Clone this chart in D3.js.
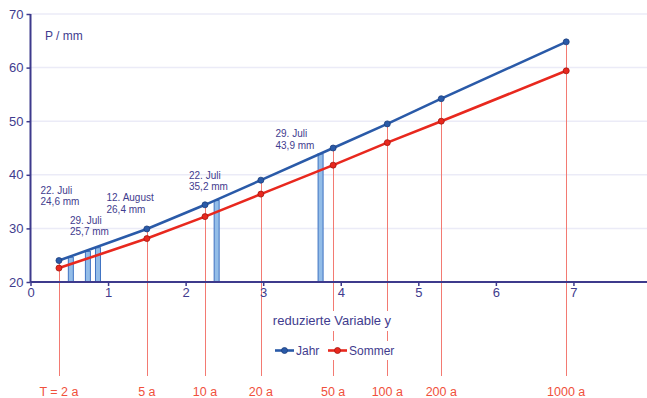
<!DOCTYPE html>
<html>
<head>
<meta charset="utf-8">
<script src="https://cdn.jsdelivr.net/npm/d3@7"></script>
<style>
  html, body { margin: 0; padding: 0; background: #ffffff; }
  svg { display: block; font-family: "Liberation Sans", Arial, sans-serif; }
</style>
</head>
<body>
<svg id="chart" width="647" height="398"></svg>
<script>
// ---- data ----
const returnPeriods = ["T = 2 a", "5 a", "10 a", "20 a", "50 a", "100 a", "200 a", "1000 a"];
const reducedVariable = [0.367, 1.500, 2.250, 2.970, 3.902, 4.600, 5.296, 6.907];
const jahr = [24.0, 29.9, 34.4, 39.0, 45.0, 49.5, 54.2, 64.8];
const sommer = [22.6, 28.1, 32.2, 36.4, 41.8, 46.0, 50.0, 59.4];

const observedY = [0.52, 0.74, 0.87, 2.40, 3.74];
const observedP = [24.6, 25.7, 26.4, 35.2, 43.9];
const observedDates = ["22. Juli", "29. Juli", "12. August", "22. Juli", "29. Juli"];

const xTicks = [0, 1, 2, 3, 4, 5, 6, 7];
const yTicks = [20, 30, 40, 50, 60, 70];
const seriesNames = ["Jahr", "Sommer"];

// ---- layout ----
const svg = d3.select("#chart");
const x = d3.scaleLinear().domain([0, 8]).range([30.5, 651]);
const y = d3.scaleLinear().domain([20, 70]).range([282, 14]);
const axisColor = "#3d3a8c";
const textColor = "#3f3c8e";
const blue = "#2a5aa8", blueDark = "#1d3f7c";
const red = "#e8281e", redDark = "#a3160f";
const tColor = "#f0503c";

// gridlines
svg.append("g").selectAll("line").data(yTicks.filter(d => d > 20)).join("line")
  .attr("x1", x(0)).attr("x2", 647)
  .attr("y1", d => y(d)).attr("y2", d => y(d))
  .attr("stroke", "#ebebf7").attr("stroke-width", 1.5);

// return-period vertical lines
svg.append("g").selectAll("line").data(reducedVariable).join("line")
  .attr("x1", d => Math.round(x(d)) + 0.5).attr("x2", d => Math.round(x(d)) + 0.5)
  .attr("y1", (d, i) => y(jahr[i])).attr("y2", 376)
  .attr("stroke", "#f37a72").attr("stroke-width", 1);

// observed bars
const bw = 5;
svg.append("g").selectAll("rect").data(observedY).join("rect")
  .attr("x", d => x(d) - bw / 2)
  .attr("y", (d, i) => y(observedP[i]))
  .attr("width", bw)
  .attr("height", (d, i) => y(20) - y(observedP[i]))
  .attr("fill", "#93bde8").attr("stroke", "#3f72c2").attr("stroke-width", 1);

// axes
const yAxis = svg.append("g").attr("transform", `translate(${x(0)},0)`)
  .call(d3.axisLeft(y).tickValues(yTicks).tickSize(4).tickPadding(3).tickFormat(d3.format("d")));
const xAxis = svg.append("g").attr("transform", `translate(0,${y(20)})`)
  .call(d3.axisBottom(x).tickValues(xTicks).tickSize(4).tickPadding(4).tickFormat(d3.format("d")));
[yAxis, xAxis].forEach(a => {
  a.select(".domain").attr("stroke", axisColor).attr("stroke-width", 2);
  a.selectAll(".tick line").attr("stroke", axisColor).attr("stroke-width", 1.5);
  a.selectAll(".tick text").attr("fill", textColor).attr("font-size", 13)
    .attr("font-family", "Liberation Sans, Arial, sans-serif");
});
xAxis.select(".domain").attr("d", `M${x(0)},0H647`);
yAxis.select(".domain").attr("d", `M0,${y(70)}V${y(20)}`);
xAxis.selectAll(".tick text").attr("dy", "0.55em");

// series lines + points
const series = [
  { name: seriesNames[0], vals: jahr, c: blue, cd: blueDark },
  { name: seriesNames[1], vals: sommer, c: red, cd: redDark }
];
const line = d3.line().x(d => x(d[0])).y(d => y(d[1]));
series.slice().reverse().forEach(s => {
  const pts = reducedVariable.map((v, i) => [v, s.vals[i]]);
  svg.append("path").datum(pts).attr("d", line)
    .attr("fill", "none").attr("stroke", s.c).attr("stroke-width", 2.6);
  svg.append("g").selectAll("circle").data(pts).join("circle")
    .attr("cx", d => x(d[0])).attr("cy", d => y(d[1])).attr("r", 3)
    .attr("fill", s.c).attr("stroke", s.cd).attr("stroke-width", 0.8);
});

// annotations
const labelPos = [[40.5, 190], [70, 220], [106.5, 197.5], [189, 175], [275.5, 133.5]];
const ann = svg.append("g").attr("fill", textColor).attr("font-size", 10);
observedDates.forEach((dt, i) => {
  const t = ann.append("text").attr("x", labelPos[i][0]).attr("y", labelPos[i][1] + 3.5);
  t.append("tspan").attr("x", labelPos[i][0]).text(dt);
  t.append("tspan").attr("x", labelPos[i][0]).attr("dy", 11.5)
    .text(d3.format(".1f")(observedP[i]).replace(".", ",") + " mm");
});

// y title
svg.append("text").attr("x", 45).attr("y", 40).attr("fill", textColor)
  .attr("font-size", 12).text("P / mm");

// x title with white box
svg.append("rect").attr("x", 268).attr("y", 311).attr("width", 128).attr("height", 20).attr("fill", "#fff");
svg.append("text").attr("x", 332).attr("y", 325).attr("text-anchor", "middle")
  .attr("fill", textColor).attr("font-size", 13).text("reduzierte Variable y");

// legend
svg.append("rect").attr("x", 272).attr("y", 341).attr("width", 125).attr("height", 19).attr("fill", "#fff");
const legX = [275, 328];
series.forEach((s, i) => {
  const g = svg.append("g").attr("transform", `translate(${legX[i]},350.5)`);
  g.append("line").attr("x1", 0).attr("x2", 19).attr("stroke", s.c).attr("stroke-width", 2.6);
  g.append("circle").attr("cx", 9.5).attr("r", 3).attr("fill", s.c).attr("stroke", s.cd).attr("stroke-width", 0.8);
  g.append("text").attr("x", 21).attr("y", 4.3).attr("fill", textColor).attr("font-size", 12).text(s.name);
});

// return period labels
svg.append("g").selectAll("text").data(returnPeriods).join("text")
  .attr("x", (d, i) => x(reducedVariable[i]))
  .attr("y", 396)
  .attr("text-anchor", "middle")
  .attr("fill", tColor).attr("font-size", 12.5)
  .text(d => d);
</script>
</body>
</html>
